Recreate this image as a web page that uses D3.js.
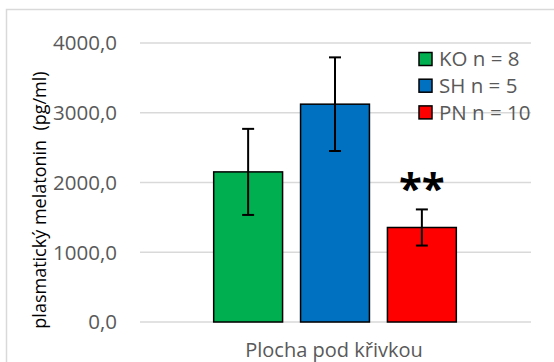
<!DOCTYPE html>
<html><head><meta charset="utf-8">
<script src="https://cdn.jsdelivr.net/npm/d3@7"></script>
<style>body{margin:0;background:#fff}svg{display:block}text{font-family:"Open Sans",sans-serif}</style>
</head><body>
<script>
const series = ["KO n = 8", "SH n = 5", "PN n = 10"];
const means = [2152, 3123, 1355];
const sds = [617, 671, 259];
const colors = ["#00B050", "#0070C0", "#FF0000"];
const significance = ["", "", "**"];
const category = "Plocha pod křivkou";
const yTicks = [0, 1000, 2000, 3000, 4000];
const yTitle = "plasmatický melatonin  (pg/ml)";

const W = 554, H = 362;
const svg = d3.select("body").append("svg").attr("width", W).attr("height", H);

// chart border
svg.append("rect").attr("x", 6.5).attr("y", 9.5).attr("width", 560).attr("height", 370)
  .attr("fill", "none").attr("stroke", "#d9d9d9").attr("stroke-width", 1.5);

const y = d3.scaleLinear().domain([0, 4000]).range([322, 43]);
const x = d3.scaleBand().domain(series).range([205, 465]).paddingInner(0.207).paddingOuter(0.1);
const gridX0 = 140, gridX1 = 531;

// gridlines
svg.append("g").selectAll("line").data(yTicks).join("line")
  .attr("x1", gridX0).attr("x2", gridX1)
  .attr("y1", d => y(d)).attr("y2", d => y(d))
  .attr("stroke", "#d9d9d9").attr("stroke-width", 1.5);

// y axis labels
const fmt = d => d3.format(".1f")(d).replace(".", ",");
svg.append("g").selectAll("text").data(yTicks).join("text")
  .attr("x", 117).attr("y", d => y(d)).attr("dy", "0.36em")
  .attr("text-anchor", "end").attr("fill", "#595959").attr("font-size", 20.5)
  .text(fmt);

// y title
svg.append("text").attr("transform", "translate(46,200) rotate(-90)")
  .attr("text-anchor", "middle").attr("font-size", 18).attr("fill", "#000")
  .style("white-space", "pre").text(yTitle);

// x category label
svg.append("text").attr("x", 334).attr("y", 357).attr("text-anchor", "middle")
  .attr("font-size", 20).attr("fill", "#595959").text(category);

const data = series.map((s, i) => ({s, m: means[i], sd: sds[i], c: colors[i], sig: significance[i]}));

// bars
svg.append("g").selectAll("rect").data(data).join("rect")
  .attr("x", d => x(d.s)).attr("width", x.bandwidth())
  .attr("y", d => y(d.m)).attr("height", d => y(0) - y(d.m))
  .attr("fill", d => d.c).attr("stroke", "#000").attr("stroke-width", 1.5);

// error bars
const eb = svg.append("g").attr("stroke", "#000").attr("stroke-width", 2);
data.forEach(d => {
  const cx = x(d.s) + x.bandwidth() / 2;
  eb.append("line").attr("x1", cx).attr("x2", cx).attr("y1", y(d.m + d.sd)).attr("y2", y(d.m - d.sd));
  [d.m + d.sd, d.m - d.sd].forEach(v => eb.append("line")
    .attr("x1", cx - 6).attr("x2", cx + 6).attr("y1", y(v)).attr("y2", y(v)));
});

// significance
svg.append("g").selectAll("text").data(data.filter(d => d.sig)).join("text")
  .attr("x", d => x(d.s) + x.bandwidth() / 2).attr("y", d => y(d.m + d.sd) - 6)
  .attr("text-anchor", "middle").attr("font-size", 42).attr("font-weight", "bold")
  .attr("font-family", "DejaVu Sans").attr("fill", "#000").text(d => d.sig);

// legend
const lg = svg.append("g");
data.forEach((d, i) => {
  const yy = 59 + i * 26.7;
  lg.append("rect").attr("x", 419).attr("y", yy - 6.5).attr("width", 13).attr("height", 13)
    .attr("fill", d.c).attr("stroke", "#000").attr("stroke-width", 1.5);
  lg.append("text").attr("x", 439).attr("y", yy).attr("dy", "0.36em")
    .attr("font-size", 20.5).attr("fill", "#595959").text(d.s);
});
</script>
</body></html>
